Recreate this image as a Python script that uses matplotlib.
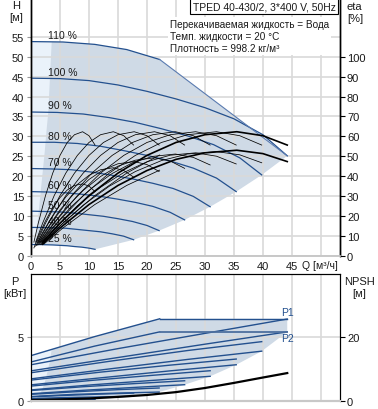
import matplotlib.pyplot as plt

plt.rcParams['font.family'] = ['Liberation Sans', 'DejaVu Sans']
plt.rcParams['font.size'] = 7.5

speed_labels = ["110 %", "100 %", "90 %", "80 %", "70 %", "60 %", "50 %", "40 %", "25 %"]

# Q-H curves, one list per speed (110 % ... 25 %)
h_q = [
    [0, 5.5, 11, 16.5, 22.2],
    [0, 5, 10, 15, 20, 25, 30, 35, 40, 44.2],
    [0, 4.5, 9, 13.5, 18, 22.5, 27, 31.5, 36, 39.8],
    [0, 4, 8, 12, 16, 20, 24, 28, 32, 35.4],
    [0, 3.5, 7, 10.5, 14, 17.5, 21, 24.5, 28, 30.9],
    [0, 3, 6, 9, 12, 15, 18, 21, 24, 26.5],
    [0, 2.5, 5, 7.5, 10, 12.5, 15, 17.5, 20, 22.1],
    [0, 2, 4, 6, 8, 10, 12, 14, 16, 17.7],
    [0, 1.25, 2.5, 3.75, 5, 6.25, 7.5, 8.75, 10, 11.05],
]
h_vals = [
    [53.8, 53.7, 53.1, 51.8, 49.3],
    [44.6, 44.5, 44.0, 42.9, 41.3, 39.4, 37.2, 34.4, 30.4, 25.1],
    [36.1, 36.0, 35.6, 34.7, 33.5, 31.9, 30.1, 27.9, 24.6, 20.3],
    [28.5, 28.5, 28.2, 27.5, 26.4, 25.2, 23.8, 22.0, 19.5, 16.1],
    [21.9, 21.8, 21.6, 21.0, 20.2, 19.3, 18.2, 16.9, 14.9, 12.3],
    [16.1, 16.0, 15.8, 15.4, 14.9, 14.2, 13.4, 12.4, 10.9, 9.0],
    [11.2, 11.1, 11.0, 10.7, 10.3, 9.9, 9.3, 8.6, 7.6, 6.3],
    [7.1, 7.1, 7.0, 6.9, 6.6, 6.3, 6.0, 5.5, 4.9, 4.0],
    [2.8, 2.8, 2.75, 2.7, 2.6, 2.5, 2.3, 2.15, 1.9, 1.6],
]

# power limit line (after 110 %)
limit_q = [22.2, 44.2]
limit_h = [49.3, 25.1]

# end points of the curves (lower edge of the area)
end_q = [44.2, 39.8, 35.4, 30.9, 26.5, 22.1, 17.7, 11.05]
end_h = [25.1, 20.3, 16.1, 12.3, 9.0, 6.3, 4.0, 1.6]

# min flow edge
minf_q = [3.57, 3.28, 2.98, 2.7, 2.36, 1.78, 1.2, 0.65]
minf_h = [53.7, 45, 36, 31.8, 26, 17.6, 9.2, 2.8]

# efficiency curves (pump and total), one list per speed
eta_q = [
    [2.2, 5.5, 11, 16.5, 22.2],
    [2, 5, 10, 15, 20, 25, 30, 35.5, 40, 44.2],
    [1.8, 4.5, 9, 13.5, 18, 22.5, 27, 32, 36, 39.8],
    [1.6, 4, 8, 12, 16, 20, 24, 28.4, 32, 35.4],
    [1.4, 3.5, 7, 10.5, 14, 17.5, 21, 24.9, 28, 30.9],
    [1.2, 3, 6, 9, 12, 15, 18, 21.3, 24, 26.5],
    [1.0, 2.5, 5, 7.5, 10, 12.5, 15, 17.8, 20, 22.1],
    [0.8, 2, 4, 6, 8, 10, 12, 14.2, 16, 17.7],
    [0.5, 1.25, 2.5, 3.75, 5, 6.25, 7.5, 8.9, 10, 11.05],
]
eta_pump = [
    [6.8, 16.3, 30.2, 41.5, 50.6],
    [6.8, 16.3, 30.2, 41.5, 50.4, 56.9, 60.8, 62.3, 60.3, 55.6],
    [6.8, 16.3, 30.2, 41.5, 50.4, 56.9, 60.8, 62.3, 60.3, 55.6],
    [6.8, 16.3, 30.2, 41.5, 50.4, 56.9, 60.8, 62.3, 60.3, 55.6],
    [6.8, 16.3, 30.2, 41.5, 50.4, 56.9, 60.8, 62.3, 60.3, 55.6],
    [6.8, 16.3, 30.2, 41.5, 50.4, 56.9, 60.8, 62.3, 60.3, 55.6],
    [6.8, 16.3, 30.2, 41.5, 50.4, 56.9, 60.8, 62.3, 60.3, 55.6],
    [6.8, 16.3, 30.2, 41.5, 50.4, 56.9, 60.8, 62.3, 60.3, 55.6],
    [6.8, 16.3, 30.2, 41.5, 50.4, 56.9, 60.8, 62.3, 60.3, 55.6],
]
eta_total = [
    [5.8, 13.9, 25.7, 35.3, 43.0],
    [5.8, 13.9, 25.7, 35.3, 42.8, 48.4, 51.7, 53.0, 51.3, 47.3],
    [5.7, 13.7, 25.4, 34.9, 42.3, 47.8, 51.1, 52.3, 50.7, 46.7],
    [5.6, 13.5, 25.1, 34.4, 41.8, 47.2, 50.5, 51.7, 50.0, 46.1],
    [5.6, 13.4, 24.8, 34.0, 41.3, 46.7, 49.9, 51.1, 49.4, 45.6],
    [5.4, 12.9, 23.9, 32.8, 39.8, 45.0, 48.0, 49.2, 47.6, 43.9],
    [5.2, 12.4, 23.0, 31.5, 38.3, 43.2, 46.2, 47.3, 45.8, 42.3],
    [4.8, 11.6, 21.4, 29.5, 35.8, 40.4, 43.2, 44.2, 42.8, 39.5],
    [3.9, 9.5, 17.5, 24.1, 29.2, 33.0, 35.3, 36.1, 35.0, 32.2],
]

# power curves P1 / P2, one list per speed
p_q = [
    [0, 11, 22.2],
    [0, 15, 30, 44.2],
    [0, 13.5, 27, 39.8],
    [0, 12, 24, 35.4],
    [0, 10.5, 21, 30.9],
    [0, 9, 18, 26.5],
    [0, 7.5, 15, 22.1],
    [0, 6, 12, 17.7],
    [0, 3.7, 7.4, 11.05],
]
p1_vals = [
    [3.55, 5.05, 6.45],
    [2.83, 4.1, 5.3, 6.43],
    [2.2, 3.1, 3.95, 4.65],
    [1.62, 2.25, 2.8, 3.28],
    [1.15, 1.6, 2.0, 2.36],
    [0.8, 1.1, 1.35, 1.57],
    [0.5, 0.7, 0.87, 1.0],
    [0.3, 0.42, 0.52, 0.6],
    [0.1, 0.14, 0.17, 0.2],
]
p2_vals = [
    [3.05, 4.3, 5.42],
    [2.35, 3.4, 4.45, 5.42],
    [1.72, 2.5, 3.25, 3.9],
    [1.25, 1.8, 2.35, 2.83],
    [0.85, 1.25, 1.6, 1.92],
    [0.55, 0.82, 1.05, 1.26],
    [0.33, 0.5, 0.6, 0.68],
    [0.17, 0.25, 0.3, 0.35],
    [0.04, 0.06, 0.07, 0.08],
]
p1_limit = [6.45, 6.45]
p2_limit = [5.42, 5.42]
p_limit_q = [22.2, 44.2]

p_end_q = [44.2, 44.2, 39.8, 35.4, 30.9, 26.5, 22.1, 17.7, 11.05, 0]
p_end = [6.45, 5.42, 3.9, 2.83, 1.92, 1.26, 0.68, 0.35, 0.08, 0.04]
p_minf_q = [3.57, 3.25, 2.92, 2.6, 2.28, 1.95, 1.63, 1.3, 0.8]
p_minf = [4.02, 3.1, 2.45, 1.8, 1.3, 0.9, 0.58, 0.35, 0.1]

npsh_q = [0, 5, 10, 15, 20, 25, 30, 35, 40, 44.2]
npsh_vals = [0.2, 0.4, 0.7, 1.2, 1.8, 2.7, 4.0, 5.6, 7.3, 8.7]

BLUE = '#23508e'
FILL = '#cfdae6'
LIGHT = '#eaf2fa'
GRID = '#d9d9d9'
TXT = '#1a1a1a'

fig = plt.figure(figsize=(3.78, 4.10), dpi=100)

# ---------------- upper chart: H and eta ----------------
ax = fig.add_axes([31 / 378, 1 - 256.7 / 410, 309 / 378, 256.7 / 410])
ax_eta = ax.twinx()

main_x = h_q[0] + limit_q[1:] + end_q[1:] + h_q[-1][::-1]
main_y = h_vals[0] + limit_h[1:] + end_h[1:] + h_vals[-1][::-1]
ax.fill(main_x, main_y, color=FILL, lw=0, zorder=1)
light_x = [0] + minf_q + [0]
light_y = [h_vals[0][0]] + minf_h + [h_vals[-1][0]]
ax.fill(light_x, light_y, color=LIGHT, lw=0, zorder=1.1)

for i, (q, h) in enumerate(zip(h_q, h_vals)):
    ax.plot(q, h, color=BLUE, lw=0.9, zorder=3)
    ax.text(3.0, h[0] + 0.4, speed_labels[i], ha='left', va='bottom',
            color=TXT, fontsize=7.5, zorder=4)
ax.plot(limit_q, limit_h, color='#5a7bb0', lw=0.8, zorder=3)

for i in range(len(eta_q)):
    w = 1.2 if i == 1 else 0.55
    ax_eta.plot(eta_q[i], eta_pump[i], color='black', lw=w)
    ax_eta.plot(eta_q[i], eta_total[i], color='black', lw=w)

ax.set_xlim(0, 53.3)
ax.set_ylim(0, 64.5)
ax_eta.set_ylim(0, 129)
ax.set_xticks(range(0, 55, 5))
ax.set_xticklabels([str(v) for v in range(0, 50, 5)] + [''])
ax.set_yticks(range(0, 60, 5))
ax_eta.set_yticks(range(0, 110, 10))
ax.grid(True, color=GRID, lw=1.2)

ax.tick_params(axis='x', length=0, pad=4, labelsize=8, colors=TXT)
ax.tick_params(axis='y', length=3, width=0.8, color='#999999', pad=2,
               labelsize=8, labelcolor=TXT)
ax_eta.tick_params(axis='y', length=3.5, width=0.8, pad=1.5, labelsize=8,
                   labelcolor=TXT)
for a in (ax, ax_eta):
    a.spines['top'].set_visible(False)
    a.spines['bottom'].set_color('#c8c8c8')
    a.spines['bottom'].set_linewidth(1.2)
    a.spines['left'].set_linewidth(1.0)
    a.spines['right'].set_linewidth(1.0)

ax.text(46.7, -0.036, "Q [м³/ч]", transform=ax.get_xaxis_transform(),
        ha='left', va='center', fontsize=7.5, color=TXT)

fig.text(16 / 378, 1 - 6 / 410, "H", ha='center', va='center', fontsize=8, color=TXT)
fig.text(16 / 378, 1 - 18 / 410, "[м]", ha='center', va='center', fontsize=8, color=TXT)
fig.text(354 / 378, 1 - 7 / 410, "eta", ha='center', va='center', fontsize=8, color=TXT)
fig.text(355 / 378, 1 - 19 / 410, "[%]", ha='center', va='center', fontsize=8, color=TXT)

fig.text(264 / 378, 1 - 7 / 410, "TPED 40-430/2, 3*400 V, 50Hz", ha='center',
         va='center', fontsize=7.5, color=TXT,
         bbox=dict(boxstyle='square,pad=0.25', fc='white', ec='black', lw=0.8))
fig.text(170 / 378, 1 - 20 / 410,
         "Перекачиваемая жидкость = Вода\nТемп. жидкости = 20 °C\nПлотность = 998.2 кг/м³",
         ha='left', va='top', fontsize=7.2, color=TXT, linespacing=1.25,
         bbox=dict(boxstyle='square,pad=0.2', fc='white', ec='none'))

# ---------------- lower chart: P and NPSH ----------------
bx = fig.add_axes([31 / 378, 1 - 401.7 / 410, 309 / 378, 127 / 410])
bx_n = bx.twinx()

pm_x = p_q[0] + p_end_q
pm_y = p1_vals[0] + p_end
bx.fill(pm_x, pm_y, color=FILL, lw=0, zorder=1)
pl_x = [0] + p_minf_q + [0]
pl_y = [p1_vals[0][0]] + p_minf + [p_end[-1]]
bx.fill(pl_x, pl_y, color=LIGHT, lw=0, zorder=1.1)

for i in range(len(p_q)):
    bx.plot(p_q[i], p1_vals[i], color=BLUE, lw=1.0, zorder=3)
    bx.plot(p_q[i], p2_vals[i], color=BLUE, lw=1.0, zorder=3)
bx.plot(p_limit_q, p1_limit, color=BLUE, lw=1.0, zorder=3)
bx.plot(p_limit_q, p2_limit, color='#4d6f9f', lw=1.3, zorder=3)
bx.text(44.2, 7.0, "P1", ha='center', va='center', fontsize=7.5, color=BLUE)
bx.text(44.2, 4.96, "P2", ha='center', va='center', fontsize=7.5, color=BLUE)

bx_n.plot(npsh_q, npsh_vals, color='black', lw=1.6)

bx.set_xlim(0, 53.3)
bx.set_ylim(0, 10)
bx_n.set_ylim(0, 40)
bx.set_xticks(range(0, 55, 5))
bx.set_yticks([0, 5])
bx_n.set_yticks([0, 20])
bx.grid(True, color=GRID, lw=1.2)
bx.tick_params(axis='x', length=0, labelbottom=False)
bx.tick_params(axis='y', length=3, width=0.8, color='#999999', pad=2,
               labelsize=8, labelcolor=TXT)
bx_n.tick_params(axis='y', length=3.5, width=0.8, pad=1.5, labelsize=8,
                 labelcolor=TXT)
for a in (bx, bx_n):
    a.spines['bottom'].set_color('#c8c8c8')
    a.spines['bottom'].set_linewidth(1.5)

fig.text(15 / 378, 1 - 282 / 410, "P", ha='center', va='center', fontsize=8, color=TXT)
fig.text(15 / 378, 1 - 294 / 410, "[кВт]", ha='center', va='center', fontsize=8, color=TXT)
fig.text(359.5 / 378, 1 - 282 / 410, "NPSH", ha='center', va='center', fontsize=8, color=TXT)
fig.text(359 / 378, 1 - 294 / 410, "[м]", ha='center', va='center', fontsize=8, color=TXT)

fig.savefig('out.png', dpi=100)
